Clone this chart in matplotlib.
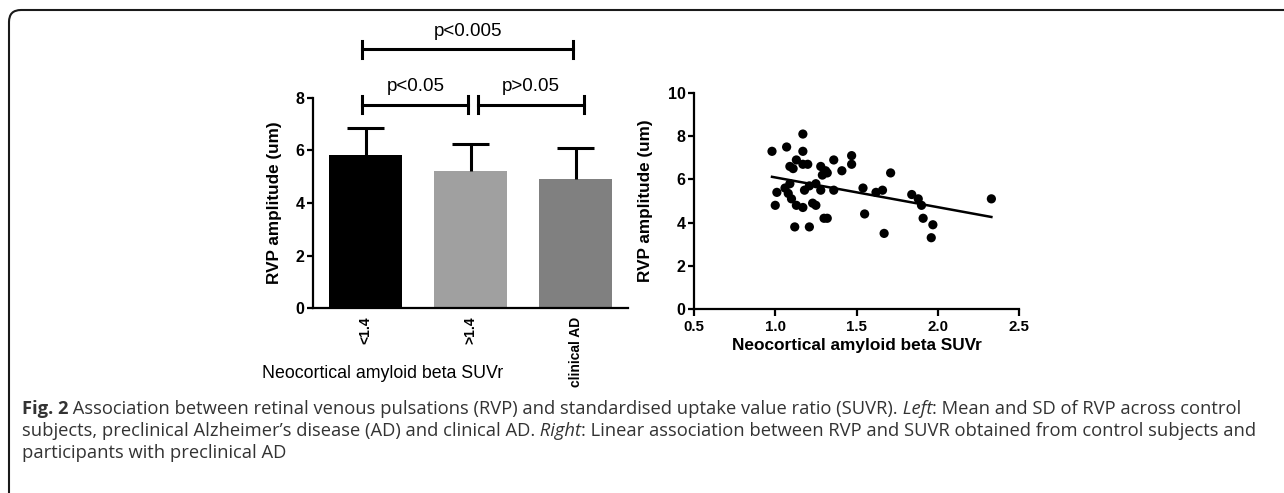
import numpy as np
from matplotlib import pyplot as plt
from matplotlib.patches import FancyBboxPatch
from matplotlib.transforms import IdentityTransform

plt.rcParams['font.family'] = ['Liberation Sans', 'DejaVu Sans']

# bar chart data (left panel)
groups = ['<1.4', '>1.4', 'clinical AD']
means = [5.83, 5.22, 4.91]
sds = [1.03, 1.03, 1.19]
bar_colors = ['#000000', '#a0a0a0', '#808080']

# significance brackets: (from, to, level, text)
brackets = [(-0.03, 0.98, 7.75, 'p<0.05'),
            (1.07, 2.08, 7.75, 'p>0.05'),
            (-0.03, 1.98, 9.85, 'p<0.005')]

# scatter data (right panel)
suvr = [0.98, 1.07, 1.17, 1.17, 1.13, 1.09, 1.11, 1.17, 1.20, 1.01,
        1.00, 1.06, 1.09, 1.08, 1.10, 1.13, 1.17, 1.12, 1.21, 1.18,
        1.21, 1.25, 1.28, 1.23, 1.25, 1.28, 1.29, 1.31, 1.32, 1.30,
        1.32, 1.36, 1.36, 1.41, 1.47, 1.47, 1.54, 1.55, 1.62, 1.66,
        1.71, 1.67, 1.84, 1.88, 1.90, 1.91, 1.97, 1.96, 2.33]
rvp = [7.3, 7.5, 8.1, 7.3, 6.9, 6.6, 6.5, 6.7, 6.7, 5.4,
       4.8, 5.6, 5.8, 5.35, 5.1, 4.8, 4.7, 3.8, 3.8, 5.5,
       5.7, 5.8, 5.5, 4.9, 4.8, 6.6, 6.2, 6.4, 6.3, 4.2,
       4.2, 5.5, 6.9, 6.4, 7.1, 6.7, 5.6, 4.4, 5.4, 5.5,
       6.3, 3.5, 5.3, 5.1, 4.8, 4.2, 3.9, 3.3, 5.1]

caption = [
    [('Fig. 2', 'bold', 'normal'),
     (' Association between retinal venous pulsations (RVP) and standardised uptake value ratio (SUVR).', 'normal', 'normal'),
     (' Left', 'normal', 'italic'),
     (': Mean and SD of RVP across control', 'normal', 'normal')],
    [('subjects, preclinical Alzheimer\u2019s disease (AD) and clinical AD.', 'normal', 'normal'),
     (' Right', 'normal', 'italic'),
     (': Linear association between RVP and SUVR obtained from control subjects and', 'normal', 'normal')],
    [('participants with preclinical AD', 'normal', 'normal')],
]

W, H = 1284, 493
fig = plt.figure(figsize=(W / 100, H / 100), dpi=100)

# frame round the figure (only top and left edges show)
frame = FancyBboxPatch((9, -100), 1500, 583, boxstyle='round,pad=0,rounding_size=12',
                       transform=IdentityTransform(), fill=False, lw=1.5, ec='#1a1a1a')
fig.patches.append(frame)


def style_axes(ax):
    ax.spines['top'].set_visible(False)
    ax.spines['right'].set_visible(False)
    ax.spines['left'].set_linewidth(1.6)
    ax.spines['bottom'].set_linewidth(1.6)
    ax.tick_params(width=1.6, length=4, labelsize=11.5, pad=2)
    for lab in ax.get_xticklabels() + ax.get_yticklabels():
        lab.set_fontweight('bold')


# left panel
ax1 = fig.add_axes([313 / W, (H - 308) / H, 315 / W, 210 / H])
x = np.arange(len(groups))
ax1.bar(x, means, width=0.69, color=bar_colors)
# SD bars drawn upwards only
tops = np.array(means) + np.array(sds)
ax1.vlines(x, means, tops, color='black', lw=2.2)
ax1.hlines(tops, x - 0.18, x + 0.18, color='black', lw=2.2)
ax1.set_xlim(-0.5, 2.5)
ax1.set_ylim(0, 8)
ax1.set_yticks([0, 2, 4, 6, 8])
ax1.set_xticks(x)
ax1.set_xticklabels(groups, rotation=90)
style_axes(ax1)
ax1.tick_params(axis='x', length=0, pad=6, labelsize=10)
ax1.set_ylabel('RVP amplitude (um)', fontsize=12.3, fontweight='bold')
ax1.yaxis.set_label_coords(-0.098, 0.5)
ax1.set_xlabel('Neocortical amyloid beta SUVr', fontsize=12.8)
ax1.xaxis.set_label_coords(0.222, -0.31)
ax1.xaxis.label.set_va('center')

for x1, x2, lev, txt in brackets:
    ax1.plot([x1, x2], [lev, lev], color='black', lw=2.2, clip_on=False)
    for xe in (x1, x2):
        ax1.plot([xe, xe], [lev - 0.32, lev + 0.32], color='black', lw=2.2, clip_on=False)
    ax1.text((x1 + x2) / 2, lev + 0.36, txt, ha='center', va='bottom', fontsize=13.5)

# right panel
ax2 = fig.add_axes([694 / W, (H - 309) / H, 325 / W, 216 / H])
ax2.scatter(suvr, rvp, s=44, color='black', edgecolors='none', zorder=3, clip_on=False)
slope, icpt = np.polyfit(suvr, rvp, 1)
xs = np.array([min(suvr), max(suvr)])
ax2.plot(xs, slope * xs + icpt, color='black', lw=1.8)
ax2.set_xlim(0.5, 2.5)
ax2.set_ylim(0, 10)
ax2.set_xticks([0.5, 1.0, 1.5, 2.0, 2.5])
ax2.set_yticks([0, 2, 4, 6, 8, 10])
style_axes(ax2)
ax2.tick_params(axis='x', length=5, pad=3, labelsize=10.8)
ax2.set_xlabel('Neocortical amyloid beta SUVr', fontsize=12.4, fontweight='bold')
ax2.xaxis.set_label_coords(0.5, -0.168)
ax2.xaxis.label.set_va('center')
ax2.set_ylabel('RVP amplitude (um)', fontsize=12.3, fontweight='bold')
ax2.yaxis.set_label_coords(-0.126, 0.5)

# caption, run by run
fig.canvas.draw()
renderer = fig.canvas.get_renderer()
cap_font = ['Open Sans', 'DejaVu Sans']
baselines = [414, 436, 458]
for line, yb in zip(caption, baselines):
    xp = 22
    for txt, wt, st in line:
        t = fig.text(xp / W, (H - yb) / H, txt, fontsize=13.2, family=cap_font,
                     fontweight=wt, fontstyle=st, color='#333333', va='baseline')
        xp += t.get_window_extent(renderer).width

fig.savefig('out.png', dpi=100)
